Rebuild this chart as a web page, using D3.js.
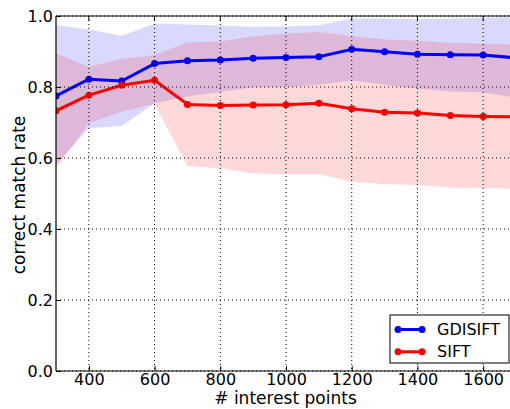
<!DOCTYPE html>
<html><head><meta charset="utf-8">
<script src="https://cdn.jsdelivr.net/npm/d3@7"></script>
<style>body{margin:0;background:#fff;overflow:hidden}svg{display:block}text{font-family:"DejaVu Sans",sans-serif}</style>
</head><body>
<script>
const points = [300,400,500,600,700,800,900,1000,1100,1200,1300,1400,1500,1600,1700];
const gdisiftMean = [0.775,0.822,0.817,0.866,0.874,0.876,0.881,0.883,0.885,0.906,0.899,0.892,0.891,0.890,0.882];
const gdisiftLow  = [0.582,0.684,0.690,0.754,0.773,0.786,0.799,0.799,0.806,0.818,0.806,0.796,0.787,0.785,0.770];
const gdisiftHigh = [0.975,0.962,0.944,0.979,0.976,0.973,0.970,0.971,0.974,0.993,0.993,0.991,0.993,0.995,0.997];
const siftMean = [0.733,0.777,0.805,0.819,0.751,0.748,0.749,0.750,0.754,0.739,0.729,0.727,0.720,0.717,0.716];
const siftLow  = [0.570,0.698,0.730,0.752,0.577,0.571,0.556,0.554,0.554,0.533,0.526,0.524,0.516,0.515,0.513];
const siftHigh = [0.895,0.857,0.879,0.890,0.926,0.928,0.943,0.951,0.955,0.944,0.934,0.930,0.925,0.922,0.920];
const xTicks = [400,600,800,1000,1200,1400,1600];
const yTicks = [0.0,0.2,0.4,0.6,0.8,1.0];
const seriesNames = ["GDISIFT","SIFT"];
const seriesColors = ["#0000ff","#ff0000"];

const W=510,H=409;
const svg=d3.select("body").append("svg").attr("width",W).attr("height",H);
const x=d3.scaleLinear().domain([300,1700]).range([56,516]);
const y=d3.scaleLinear().domain([0,1]).range([371,16]);
const L=x(300), R=x(1700), T=y(1), B=y(0);

svg.append("clipPath").attr("id","c").append("rect").attr("x",L).attr("y",T).attr("width",R-L).attr("height",B-T);

const series=[
 {name:seriesNames[0],color:seriesColors[0],mean:gdisiftMean,lo:gdisiftLow,hi:gdisiftHigh},
 {name:seriesNames[1],color:seriesColors[1],mean:siftMean,lo:siftLow,hi:siftHigh}
];
const g=svg.append("g").attr("clip-path","url(#c)");
series.forEach(s=>{
  const area=d3.area().x((d,i)=>x(points[i])).y0((d,i)=>y(s.lo[i])).y1((d,i)=>y(s.hi[i]));
  g.append("path").datum(points).attr("d",area).attr("fill",s.color).attr("fill-opacity",0.15).attr("stroke","none");
});
const grid=svg.append("g");
xTicks.forEach(t=>grid.append("line").attr("x1",x(t)).attr("x2",x(t)).attr("y1",T).attr("y2",B)
  .attr("stroke","#000").attr("stroke-width",1).attr("stroke-dasharray","1,3"));
yTicks.forEach(t=>grid.append("line").attr("x1",L).attr("x2",R).attr("y1",y(t)).attr("y2",y(t))
  .attr("stroke","#000").attr("stroke-width",1).attr("stroke-dasharray","1,3"));
series.forEach(s=>{
  const line=d3.line().x((d,i)=>x(points[i])).y((d,i)=>y(s.mean[i]));
  g.append("path").datum(points).attr("d",line).attr("fill","none").attr("stroke",s.color).attr("stroke-width",3).attr("stroke-linejoin","round");
  g.selectAll(null).data(points).enter().append("circle").attr("cx",d=>x(d)).attr("cy",(d,i)=>y(s.mean[i])).attr("r",3.5).attr("fill",s.color);
});
const xAxis=svg.append("g").attr("transform",`translate(0,${B})`).call(d3.axisBottom(x).tickValues(xTicks).tickSize(-5).tickPadding(3).tickFormat(d3.format("d")));
const yAxis=svg.append("g").attr("transform",`translate(${L},0)`).call(d3.axisLeft(y).tickValues(yTicks).tickSize(-5).tickPadding(3).tickFormat(d3.format(".1f")));
[xAxis,yAxis].forEach(a=>{a.select(".domain").attr("stroke","#000").attr("stroke-width",1.2);a.selectAll("text").attr("font-size",16).attr("fill","#000").attr("font-family","DejaVu Sans");a.selectAll(".tick line").attr("stroke","#000");});
xAxis.select(".domain").attr("d",`M${L},0H${R}`);
yAxis.select(".domain").attr("d",`M0,${B}V${T}`);
svg.append("line").attr("x1",L).attr("x2",R).attr("y1",T).attr("y2",T).attr("stroke","#000").attr("stroke-width",1.2);
xTicks.forEach(t=>svg.append("line").attr("x1",x(t)).attr("x2",x(t)).attr("y1",T).attr("y2",T+5).attr("stroke","#000"));
svg.append("text").attr("x",285.5).attr("y",404).attr("text-anchor","middle").attr("font-size",17).text("# interest points");
svg.append("text").attr("transform","translate(25,195) rotate(-90)").attr("text-anchor","middle").attr("font-size",17).text("correct match rate");
const lg=svg.append("g");
lg.append("rect").attr("x",390).attr("y",315).attr("width",119).attr("height",48).attr("fill","#fff").attr("stroke","#000").attr("stroke-width",1);
series.forEach((s,i)=>{
  const yy=329.5+i*22.3;
  lg.append("line").attr("x1",398).attr("x2",422).attr("y1",yy).attr("y2",yy).attr("stroke",s.color).attr("stroke-width",3);
  lg.append("circle").attr("cx",398).attr("cy",yy).attr("r",3.5).attr("fill",s.color);
  lg.append("circle").attr("cx",422).attr("cy",yy).attr("r",3.5).attr("fill",s.color);
  lg.append("text").attr("x",437).attr("y",yy+5.2).attr("font-size",16).text(s.name);
});
</script>
</body></html>
